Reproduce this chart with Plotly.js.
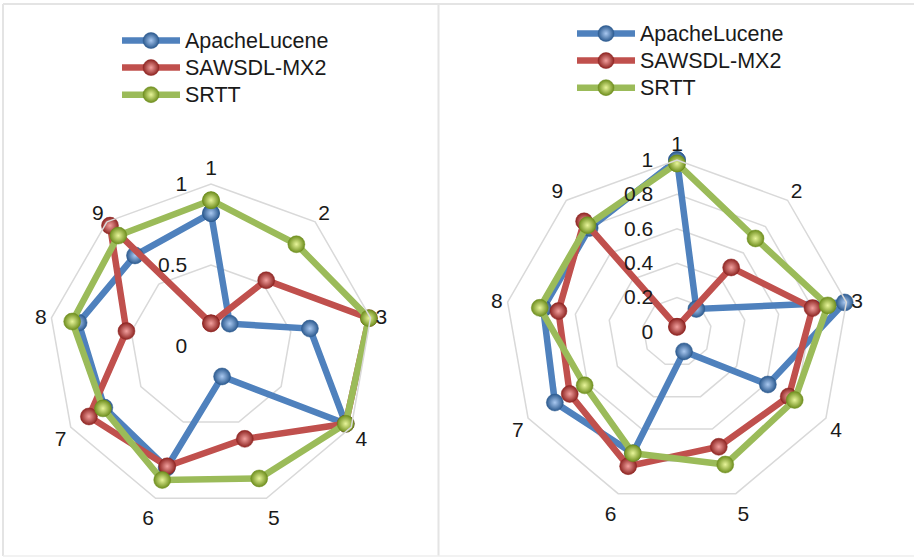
<!DOCTYPE html>
<html>
<head>
<meta charset="utf-8">
<script src="https://cdn.plot.ly/plotly-3.0.1.min.js"></script>
<style>html,body{margin:0;padding:0;background:#fff;}#chart{width:914px;height:557px;}</style>
</head>
<body>
<div id="chart"></div>
<script>
// Categories (axes of the radar)
const categories = ["1","2","3","4","5","6","7","8","9"];
const seriesNames = ["ApacheLucene","SAWSDL-MX2","SRTT"];

// Left chart values
const leftApacheLucene = [0.82, 0.18, 0.62, 0.96, 0.20, 0.80, 0.76, 0.83, 0.73];
const leftSAWSDL       = [0.14, 0.53, 0.99, 0.96, 0.61, 0.79, 0.87, 0.53, 0.97];
const leftSRTT         = [0.90, 0.82, 0.99, 0.96, 0.87, 0.88, 0.77, 0.87, 0.89];

// Right chart values
const rightApacheLucene = [1.00, 0.175, 0.99, 0.61, 0.12, 0.75, 0.82, 0.79, 0.79];
const rightSAWSDL       = [0.03, 0.49, 0.80, 0.75, 0.71, 0.83, 0.72, 0.70, 0.84];
const rightSRTT         = [0.98, 0.71, 0.89, 0.79, 0.82, 0.75, 0.62, 0.81, 0.81];

// Radial tick values
const leftTicks  = [0, 0.5, 1];
const leftTickText = ["0", "0.5", "1"];
const rightTicks = [0, 0.2, 0.4, 0.6, 0.8, 1];
const rightTickText = ["0", "0.2", "0.4", "0.6", "0.8", "1"];

const lineColors = ["#4F81BD", "#C0504D", "#9BBB59"];
const edgeColors = ["#2C5A8F", "#8E2522", "#6E8E1E"];
const centerColors = ["#A9C8F0", "#F2A09E", "#E8F59A"];

const FONT = "Liberation Sans, Arial, sans-serif";

function closeLoop(arr){ return arr.concat([arr[0]]); }

function makeTrace(vals, i, subplot, legendId){
  return {
    type: "scatterpolar",
    r: closeLoop(vals),
    theta: closeLoop(categories),
    name: '<span style="font-size:21.5px">' + seriesNames[i] + '</span>',
    subplot: subplot,
    legend: legendId,
    mode: "lines+markers",
    line: {color: lineColors[i], width: 6.5},
    marker: {
      size: 17,
      color: edgeColors[i],
      gradient: {type: "radial", color: centerColors[i]},
      line: {color: edgeColors[i], width: 0.5}
    },
    hoverinfo: "r+theta+name"
  };
}

const data = [
  makeTrace(leftApacheLucene, 0, "polar", "legend"),
  makeTrace(leftSAWSDL, 1, "polar", "legend"),
  makeTrace(leftSRTT, 2, "polar", "legend"),
  makeTrace(rightApacheLucene, 0, "polar2", "legend2"),
  makeTrace(rightSAWSDL, 1, "polar2", "legend2"),
  makeTrace(rightSRTT, 2, "polar2", "legend2")
];

function polarCfg(domX, domY, tv, tt){
  return {
    domain: {x: domX, y: domY},
    bgcolor: "rgba(0,0,0,0)",
    gridshape: "linear",
    radialaxis: {
      range: [0, 1],
      tickvals: tv,
      ticktext: tt,
      angle: 90,
      side: "counterclockwise",
      showline: false,
      ticks: "outside",
      ticklen: 16,
      tickcolor: "rgba(0,0,0,0)",
      gridcolor: "#D9D9D9",
      gridwidth: 1.5,
      tickfont: {family: FONT, size: 21, color: "#1a1a1a"},
      tickangle: 90
    },
    angularaxis: {
      type: "category",
      categoryarray: categories,
      direction: "clockwise",
      rotation: 90,
      showgrid: false,
      showline: true,
      linecolor: "#D9D9D9",
      linewidth: 1.5,
      ticks: "",
      tickfont: {family: FONT, size: 21, color: "#1a1a1a"}
    }
  };
}

const legendBase = {
  font: {family: FONT, size: 18.5, color: "#1a1a1a"},
  bgcolor: "rgba(0,0,0,0)",
  xanchor: "left",
  yanchor: "top",
  tracegroupgap: 0,
  itemwidth: 58,
  itemclick: false
};

const layout = {
  width: 914,
  height: 557,
  margin: {l: 0, r: 0, t: 0, b: 0},
  paper_bgcolor: "#ffffff",
  showlegend: true,
  polar: polarCfg([49/914, 373/914], [1-508/557, 1-184/557], leftTicks, leftTickText),
  polar2: polarCfg([505/914, 849/914], [1-504/557, 1-160/557], rightTicks, rightTickText),
  legend: Object.assign({}, legendBase, {x: 117/914, y: 1-22/557}),
  legend2: Object.assign({}, legendBase, {x: 572/914, y: 1-15/557}),
  shapes: [
    {type: "line", xref: "paper", yref: "paper", x0: 3/914, x1: 1, y0: 1-4/557, y1: 1-4/557, line: {color: "#E4E4E4", width: 2}},
    {type: "line", xref: "paper", yref: "paper", x0: 3/914, x1: 3/914, y0: 1-4/557, y1: 1-556/557, line: {color: "#E4E4E4", width: 2}},
    {type: "line", xref: "paper", yref: "paper", x0: 438.5/914, x1: 438.5/914, y0: 1-4/557, y1: 1-556/557, line: {color: "#E4E4E4", width: 2}},
    {type: "line", xref: "paper", yref: "paper", x0: 3/914, x1: 1, y0: 1-556/557, y1: 1-556/557, line: {color: "#EEEEEE", width: 1.5}}
  ]
};

Plotly.newPlot("chart", data, layout, {displayModeBar: false, staticPlot: true});
</script>
</body>
</html>
